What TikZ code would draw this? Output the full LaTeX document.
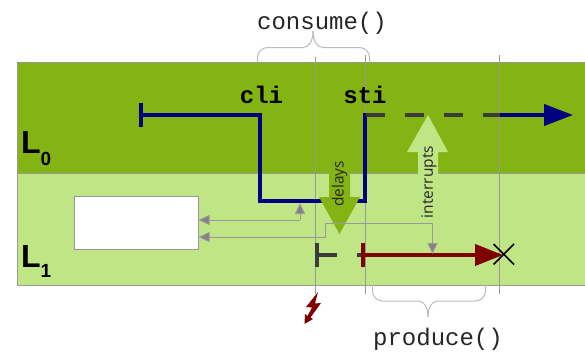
\documentclass[tikz,border=0pt]{standalone}
\usepackage{fontspec}
\setmainfont{Liberation Sans}
\setmonofont{Liberation Mono}
\newfontfamily\labfont{Open Sans}
\usetikzlibrary{arrows.meta}
\definecolor{dgreen}{HTML}{84B414}
\definecolor{lgreen}{HTML}{C0E585}
\definecolor{navy}{HTML}{000080}
\definecolor{dred}{HTML}{800000}
\definecolor{ggrey}{HTML}{999999}
\definecolor{dgrey}{HTML}{3B3B3B}
\definecolor{brc}{HTML}{BBBBBB}
\tikzset{
  x=1pt,y=-1pt,
  band/.style={draw=ggrey,line width=1pt},
  guide/.style={draw=ggrey,line width=1pt},
  conn/.style={draw=ggrey,line width=1pt,-{Triangle[length=11pt,width=10pt,fill=ggrey!85!black]}},
  flow/.style={line width=4pt},
  brc/.style={draw=brc,line width=1pt,rounded corners=10pt},
  code/.style={font=\ttfamily\fontsize{24}{24}\selectfont,text=black!85,inner sep=0pt},
  codeb/.style={font=\ttfamily\bfseries\fontsize{24}{24}\selectfont,text=black,inner sep=0pt},
  lev/.style={font=\bfseries\fontsize{32}{32}\selectfont,text=black,inner sep=0pt,anchor=base west},
  lab/.style={font=\labfont\fontsize{15.5}{15.5}\selectfont,text=black!85,inner sep=0pt,rotate=90}
}
\begin{document}
\begin{tikzpicture}
\useasboundingbox (0,0) rectangle (585,351);
\fill[white] (0,0) rectangle (585,351);
% bands
\path[band,fill=dgreen] (17,62) rectangle (585,173);
\path[band,fill=lgreen] (17,173) rectangle (585,285);
% white box
\node[draw=ggrey,line width=1pt,fill=white,minimum width=124pt,minimum height=53pt,inner sep=0pt,anchor=north west] (box) at (74,195.5) {};
% guides
\coordinate (g1t) at (315.5,57); \coordinate (g1b) at (315.5,294);
\coordinate (g2t) at (365,55); \coordinate (g2b) at (365,294);
\coordinate (g3t) at (499.5,55); \coordinate (g3b) at (499.5,294);
\draw[guide] (g1t) -- (g1b);
\draw[guide] (g2t) -- (g2b);
\draw[guide] (g3t) -- (g3b);
% flow L0
\coordinate (a0) at (141,115);
\coordinate (a1) at (259.5,115);
\coordinate (a2) at (259.5,201);
\coordinate (a3) at (364.5,201);
\coordinate (a4) at (364.5,115);
\coordinate (a5) at (500,115);
\coordinate (a6) at (573,115);
% interrupts arrow
\fill[lgreen] (428,115) -- (448,152) -- (438,152) -- (438,175) -- (418,175) -- (418,152) -- (407,152) -- cycle;
\draw[navy,flow] (141,103) -- (141,127);
\draw[navy,flow,line join=miter] (a0) -- (a1) -- (a2) -- (a3) -- (a4) -- (367,115);
\draw[dgrey,flow,dash pattern=on 19pt off 20pt] (365.5,115) -- (a5);
\draw[navy,flow,-{Triangle[length=29pt,width=21pt,fill=navy]}] (a5) -- (a6);
% delays arrow
\fill[dgreen] (329,160) -- (350,160) -- (350,197) -- (360,197) -- (339.5,234) -- (319,197) -- (329,197) -- cycle;
% grey connectors
\coordinate (c1) at (300,220);
\coordinate (c2) at (300,203);
\coordinate (c3) at (432.5,223);
\coordinate (c4) at (325,223);
\coordinate (c5) at (325,237);
\coordinate (c6) at (432.5,254);
\coordinate (b1) at (198.5,220);
\coordinate (b2) at (198.5,237);
\draw[conn] (c1) -- (b1);
\draw[conn] (c1) -- (c2);
\draw[conn] (c3) -- (c4) -- (c5) -- (b2);
% flow L1
\draw[dgrey,flow] (317,243) -- (317,267);
\draw[dgrey,flow] (317,255) -- (337,255);
\draw[dgrey,flow] (357,255) -- (364,255);
\draw[dred,flow] (363,243) -- (363,267);
\coordinate (r0) at (363,255);
\coordinate (r1) at (503,255);
\draw[dred,flow,-{Triangle[length=28pt,width=21pt,fill=dred]}] (r0) -- (r1);
\draw[conn] (c3) -- (c6);
\draw[black,line width=1.5pt] (493.5,244) -- (514,264.5) (514,244) -- (493.5,264.5);
% braces
\draw[brc] (257.5,62) -- (257.5,47.5) -- (303,47.5);
\draw[brc] (369.5,62) -- (369.5,47.5) -- (323,47.5);
\draw[draw=brc,line width=1pt] (303,47.5) .. controls (309,47.5) and (313,41) .. (313,31);
\draw[draw=brc,line width=1pt] (323,47.5) .. controls (317,47.5) and (313,41) .. (313,31);
\draw[brc] (372.5,285) -- (372.5,301) -- (418,301);
\draw[brc] (485.5,285) -- (485.5,301) -- (438,301);
\draw[draw=brc,line width=1pt] (418,301) .. controls (424,301) and (428,307) .. (428,317);
\draw[draw=brc,line width=1pt] (438,301) .. controls (432,301) and (428,307) .. (428,317);
% lightning
\fill[dred] (318,292) -- (306,307) -- (312,307.5) -- (307.5,316) -- (305,314) -- (304.5,324) -- (313,319) -- (310.5,317.5) -- (321,303) -- (315,303.5) -- cycle;
% text
\node[code,anchor=base] (tc) at (322,29) {consume()};
\node[code,anchor=base] (tp) at (438,345) {produce()};
\node[codeb,anchor=base] (tcli) at (261.5,103) {cli};
\node[codeb,anchor=base] (tsti) at (365,103) {sti};
\node[lev] (l0) at (21,153) {L\raisebox{-12pt}{\fontsize{19}{19}\selectfont 0}};
\node[lev] (l1) at (21,267) {L\raisebox{-10pt}{\fontsize{19}{19}\selectfont 1}};
\node[lab] (td) at (339.5,184) {delays};
\node[lab] (ti) at (429,182) {interrupts};
\end{tikzpicture}
\end{document}
